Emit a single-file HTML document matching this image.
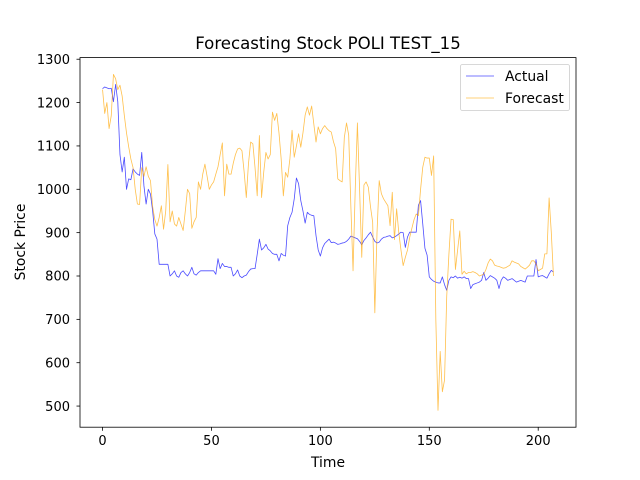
<!DOCTYPE html>
<html><head><meta charset="utf-8"><style>
html,body{margin:0;padding:0;background:#fff;}
svg{display:block;font-family:"DejaVu Sans","Liberation Sans",sans-serif;}
</style></head><body>
<svg id="chart" width="640" height="480" viewBox="0 0 640 480">
<rect x="0" y="0" width="640" height="480" fill="#fff"/>
<text x="328" y="49" text-anchor="middle" font-size="16.6">Forecasting Stock POLI TEST_15</text>
<g id="plot"></g>
<rect x="80" y="57.6" width="496" height="369.6" fill="none" stroke="#000" stroke-width="0.8"/>
<g id="xticks"></g>
<g id="yticks"></g>
<text x="328" y="467" text-anchor="middle" font-size="13.9">Time</text>
<text x="25" y="242" text-anchor="middle" font-size="13.9" transform="rotate(-90 25 242)">Stock Price</text>
<g>
<rect x="460.5" y="64.5" width="109" height="46" rx="2" fill="#fff" fill-opacity="0.8" stroke="#ccc" stroke-width="0.8"/>
<g>
<line x1="466" y1="76" x2="494" y2="76" stroke="#0000ff" stroke-opacity="0.7" stroke-width="0.8"/>
<text x="505" y="81" font-size="13.9">Actual</text></g>
<g>
<line x1="466" y1="98" x2="494" y2="98" stroke="#ffa500" stroke-opacity="0.7" stroke-width="0.8"/>
<text x="505" y="103" font-size="13.9">Forecast</text></g>
</g>
</svg>
<script>
const actual=[1232,1236,1234,1232,1233,1202,1242,1202,1080,1040,1074,1000,1024,1022,1047,1040,1035,1032,1085,1008,966,1000,989,950,897,885,827,827,827,827,827,800,805,812,800,797,808,812,805,800,808,820,805,802,808,812,812,812,812,812,812,812,804,840,817,829,822,822,820,820,800,805,814,800,796,800,802,810,816,817,817,850,885,860,865,873,862,858,852,850,850,835,852,848,846,916,935,947,978,1026,1013,974,950,922,947,942,940,939,893,860,846,865,875,880,885,877,878,876,873,874,876,877,880,885,892,890,888,886,880,872,882,888,895,901,890,880,876,878,885,889,890,892,893,888,890,893,897,901,900,866,890,901,901,901,901,963,974,920,864,848,798,792,788,786,784,784,798,780,767,790,798,796,800,795,797,795,798,794,794,771,780,782,784,786,790,808,790,795,801,798,795,790,771,790,798,795,790,792,794,790,786,788,790,788,786,800,800,800,800,838,798,800,801,798,795,805,813,809];
const forecast=[1230,1175,1200,1140,1170,1265,1255,1230,1240,1215,1170,1130,1098,1070,1050,1000,966,965,1050,1030,1052,1030,1020,960,930,915,935,962,908,950,1057,925,950,920,915,935,920,905,950,1000,990,910,925,935,1017,1000,1035,1058,1030,1000,1010,1017,1035,1052,1080,1107,985,1058,1035,1035,1060,1080,1093,1095,1089,1040,981,1060,1109,1105,1050,985,1124,981,1040,1085,1070,1080,1178,1159,1175,1130,1070,985,1039,1028,1070,1136,1074,1100,1128,1097,1130,1171,1190,1171,1192,1150,1109,1144,1128,1140,1147,1140,1135,1132,1110,1094,1024,1020,1017,1120,1153,1125,960,812,1000,1153,1000,843,1010,1017,1005,960,924,715,900,1020,990,978,970,962,916,993,884,955,900,860,824,843,860,889,910,930,943,939,1000,1051,1074,1072,1072,1032,1077,700,490,626,533,560,753,850,931,930,815,860,904,804,811,805,808,808,810,808,805,800,802,804,815,830,839,835,825,823,822,820,818,819,822,825,835,832,830,828,822,819,816,820,825,835,835,828,812,815,818,851,851,980,901,800];
const xTicks=[0,50,100,150,200];
const yTicks=[500,600,700,800,900,1000,1100,1200,1300];
const NS="http://www.w3.org/2000/svg";
const L=80,R=576,T=57.6,B=427.2;
const n=actual.length;
const xmin=-(n-1)*0.05,xmax=(n-1)*1.05;
const allv=actual.concat(forecast);
const vmin=Math.min(...allv),vmax=Math.max(...allv),pad=(vmax-vmin)*0.05;
const ymin=vmin-pad,ymax=vmax+pad;
const xs=i=>L+(i-xmin)/(xmax-xmin)*(R-L);
const ys=v=>B-(v-ymin)/(ymax-ymin)*(B-T);
const plot=document.getElementById('plot');
function line(data,color,name){
  const p=document.createElementNS(NS,'polyline');
  p.setAttribute('points',data.map((v,i)=>xs(i).toFixed(2)+','+ys(v).toFixed(2)).join(' '));
  p.setAttribute('fill','none');p.setAttribute('stroke',color);
  p.setAttribute('stroke-opacity','0.7');p.setAttribute('stroke-width','0.8');
  p.setAttribute('stroke-linejoin','round');
  
  
  plot.appendChild(p);
}
line(actual,'#0000ff','actual-line');
line(forecast,'#ffa500','forecast-line');
const xg=document.getElementById('xticks');
xTicks.forEach(t=>{
  const x=xs(t);
  const l=document.createElementNS(NS,'line');
  l.setAttribute('x1',x);l.setAttribute('x2',x);l.setAttribute('y1',B);l.setAttribute('y2',B+3.5);
  l.setAttribute('stroke','#000');l.setAttribute('stroke-width','0.8');
  
  
  xg.appendChild(l);
  const tx=document.createElementNS(NS,'text');
  tx.setAttribute('x',x);tx.setAttribute('y',B+18);tx.setAttribute('text-anchor','middle');tx.setAttribute('font-size','13');
  tx.textContent=t;
  
  
  xg.appendChild(tx);
});
const yg=document.getElementById('yticks');
yTicks.forEach(t=>{
  const y=ys(t);
  const l=document.createElementNS(NS,'line');
  l.setAttribute('x1',L-3.5);l.setAttribute('x2',L);l.setAttribute('y1',y);l.setAttribute('y2',y);
  l.setAttribute('stroke','#000');l.setAttribute('stroke-width','0.8');
  
  
  yg.appendChild(l);
  const tx=document.createElementNS(NS,'text');
  tx.setAttribute('x',L-10);tx.setAttribute('y',y+4.7);tx.setAttribute('text-anchor','end');tx.setAttribute('font-size','13');
  tx.textContent=t;
  
  
  yg.appendChild(tx);
});
</script>
</body></html>
